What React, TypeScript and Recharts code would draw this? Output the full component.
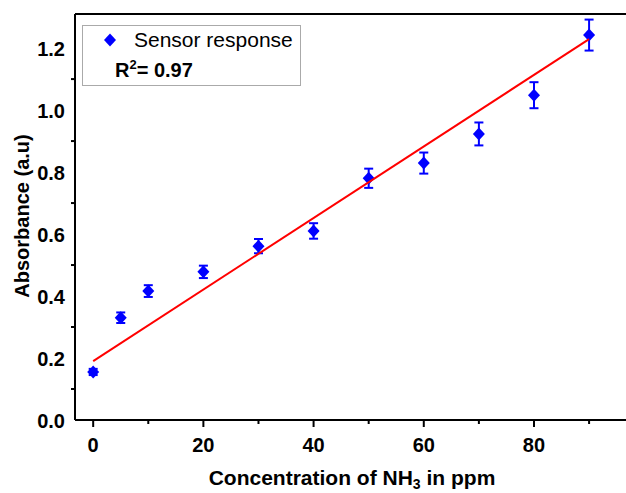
import { ScatterChart, Scatter, XAxis, YAxis, ErrorBar, ReferenceLine } from "recharts";

// concentration of NH3 (ppm) and measured absorbance
const conc = [0, 5, 10, 20, 30, 40, 50, 60, 70, 80, 90];
const absorb = [0.155, 0.33, 0.416, 0.478, 0.561, 0.61, 0.78, 0.829, 0.923, 1.048, 1.242];
const errs = [0.01, 0.017, 0.019, 0.02, 0.023, 0.025, 0.031, 0.034, 0.037, 0.042, 0.05];

// linear fit end points as drawn
const fitConc = [0, 90];
const fitAbs = [0.19, 1.229];

const xTicks = [0, 10, 20, 30, 40, 50, 60, 70, 80, 90];
const yTicks = [0, 0.1, 0.2, 0.3, 0.4, 0.5, 0.6, 0.7, 0.8, 0.9, 1.0, 1.1, 1.2];

const points = conc.map((c, i) => ({ x: c, y: absorb[i], err: errs[i] }));
const fitLine = fitConc.map((c, i) => ({ x: c, y: fitAbs[i] }));

const FONT = "'Liberation Sans', Arial, sans-serif";

const Diamond = (props: any) => {
  const { cx, cy } = props;
  if (cx == null || cy == null) return <g />;
  return (
    <path
      d={`M${cx},${cy - 6.5}L${cx + 6},${cy}L${cx},${cy + 6.5}L${cx - 6},${cy}Z`}
      fill="#0000ff"
    />
  );
};

const XTick = (props: any) => {
  const { x, y, payload } = props;
  const v = payload.value;
  const major = v % 20 === 0;
  return (
    <g>
      <line x1={x} y1={y} x2={x} y2={y + (major ? 7 : 4)} stroke="#000" strokeWidth={2} />
      {major && (
        <text x={x} y={y + 32} textAnchor="middle" fontSize={20} fontWeight="bold" fill="#000" fontFamily={FONT}>
          {v}
        </text>
      )}
    </g>
  );
};

const YTick = (props: any) => {
  const { x, y, payload } = props;
  const v = payload.value;
  const major = Math.round(v * 10) % 2 === 0;
  return (
    <g>
      {!major && <line x1={x} y1={y} x2={x - 4} y2={y} stroke="#000" strokeWidth={2} />}
      {major && (
        <text x={x - 10} y={y + 8} textAnchor="end" fontSize={20} fontWeight="bold" fill="#000" fontFamily={FONT}>
          {v.toFixed(1)}
        </text>
      )}
    </g>
  );
};

export default function App() {
  return (
    <div style={{ position: "absolute", left: 0, top: 0, width: 626, height: 493, background: "#fff" }}>
      <ScatterChart width={626} height={493} margin={{ top: 14, right: 0, bottom: 0, left: 0 }}>
        <XAxis
          type="number"
          dataKey="x"
          domain={[-3.3, 96.7]}
          ticks={xTicks}
          height={73}
          tickSize={0}
          tickMargin={0}
          tickLine={false}
          tick={<XTick />}
          axisLine={{ stroke: "#000", strokeWidth: 2 }}
          allowDataOverflow
        />
        <YAxis
          type="number"
          dataKey="y"
          domain={[0, 1.31]}
          ticks={yTicks}
          width={75}
          tickSize={0}
          tickMargin={0}
          tickLine={false}
          tick={<YTick />}
          axisLine={{ stroke: "#000", strokeWidth: 2 }}
          allowDataOverflow
        />
        <ReferenceLine y={1.31} stroke="#000" strokeWidth={2} />
        <Scatter data={points} shape={<Diamond />} isAnimationActive={false}>
          <ErrorBar dataKey="err" direction="y" width={4.5} stroke="#0000ff" strokeWidth={2} isAnimationActive={false} />
        </Scatter>
        <Scatter
          data={fitLine}
          line={{ stroke: "#ff0000", strokeWidth: 2 }}
          shape={() => <g />}
          isAnimationActive={false}
        />
      </ScatterChart>
      <svg
        width={626}
        height={493}
        style={{ position: "absolute", left: 0, top: 0, pointerEvents: "none" }}
        fontFamily={FONT}
      >
        <rect x={82.5} y={25.5} width={218} height={60} fill="#fff" stroke="#aaa" strokeWidth={1} />
        <path d="M110,33.5L116,40L110,46.5L104,40Z" fill="#0000ff" />
        <text x={134} y={47} fontSize={21} fill="#000">Sensor response</text>
        <text x={115} y={77} fontSize={20} fontWeight="bold" fill="#000">
          R<tspan dy={-8} fontSize={13}>2</tspan>
          <tspan dy={8}>= 0.97</tspan>
        </text>
        <text
          x={29}
          y={216}
          transform="rotate(-90 29 216)"
          textAnchor="middle"
          fontSize={20}
          fontWeight="bold"
          fill="#000"
        >
          Absorbance (a.u)
        </text>
        <text x={352} y={485} textAnchor="middle" fontSize={21} fontWeight="bold" fill="#000">
          Concentration of NH<tspan dy={4} fontSize={14}>3</tspan>
          <tspan dy={-4}> in ppm</tspan>
        </text>
      </svg>
    </div>
  );
}
